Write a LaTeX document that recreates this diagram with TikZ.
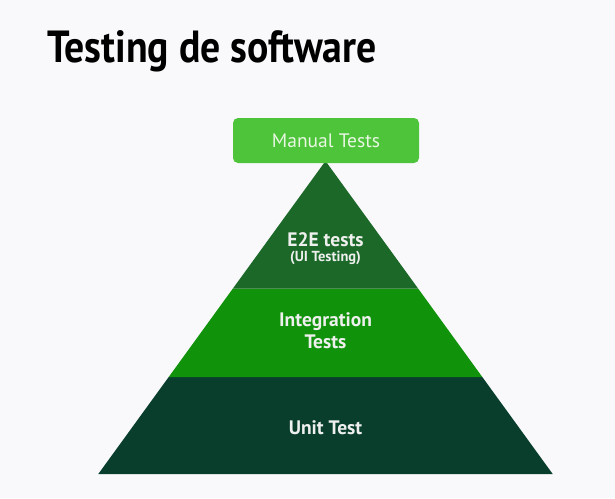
\documentclass[tikz,border=0pt]{standalone}
\usepackage{fontspec}
\setmainfont{PT Sans}
\begin{document}
\definecolor{bgcol}{RGB}{249,249,251}
\definecolor{manualcol}{RGB}{77,196,58}
\definecolor{manualtxt}{RGB}{232,246,226}
\definecolor{etoecol}{RGB}{27,104,41}
\definecolor{integcol}{RGB}{16,147,10}
\definecolor{unitcol}{RGB}{9,62,45}
\definecolor{labeltxt}{RGB}{238,240,238}
\begin{tikzpicture}[x=1pt,y=-1pt,
  layerlabel/.style={text=labeltxt,font=\fontsize{19.5}{22}\selectfont\bfseries,align=center,inner sep=0pt},
  sublabel/.style={text=labeltxt,font=\fontsize{14.5}{16}\selectfont\bfseries,inner sep=0pt}]
  % canvas
  \fill[bgcol] (0,0) rectangle (615,498);
  \useasboundingbox (0,0) rectangle (615,498);
  % title
  \node[anchor=base west,inner sep=0pt,xscale=0.883,transform shape,
        font=\fontsize{45}{50}\selectfont\bfseries] (title) at (47,62) {Testing de software};
  % pyramid layers
  \fill[unitcol]  (168.7,377) -- (482.3,377) -- (552.7,474) -- (98.3,474) -- cycle;
  \fill[integcol] (232.9,288.5) -- (418.1,288.5) -- (482.3,377) -- (168.7,377) -- cycle;
  \fill[etoecol]  (325.5,161) -- (418.1,288.5) -- (232.9,288.5) -- cycle;
  % manual tests cap
  \node[fill=manualcol,rounded corners=5pt,minimum width=186pt,minimum height=45pt,inner sep=0pt,
        text=manualtxt,font=\fontsize{19.5}{22}\selectfont] (manual) at (326,140.5) {Manual Tests};
  % layer labels
  \node[layerlabel] (e2e) at (325.5,240) {E2E tests};
  \node[sublabel] (ui) at (325.5,258) {(UI Testing)};
  \node[layerlabel] (integ) at (325.5,331) {Integration\\Tests};
  \node[layerlabel] (unit) at (325.5,428) {Unit Test};
\end{tikzpicture}
\end{document}
